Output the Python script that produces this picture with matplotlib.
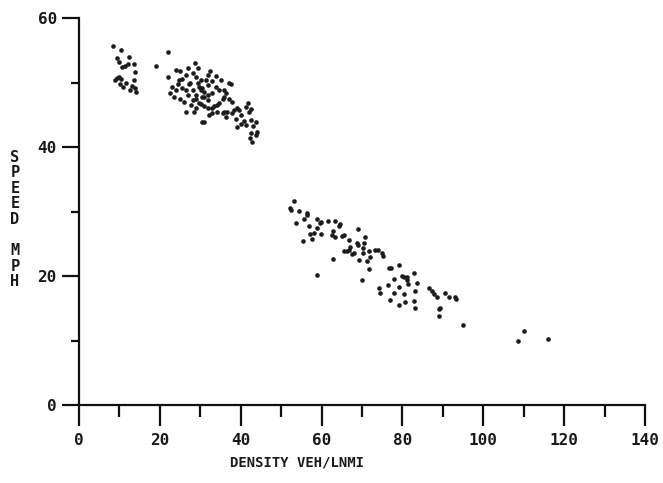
import matplotlib
matplotlib.use("Agg")
import matplotlib.pyplot as plt
from matplotlib.ticker import MultipleLocator

# ---- data (density veh/lnmi, speed mph) ----
free_density = [8.4, 10.4, 9.4, 9.9, 12.3, 10.6, 11.4, 12.1, 13.6, 13.8, 8.9, 9.4, 9.9,
                10.4, 13.6, 10.9, 13.1, 12.6, 13.8, 14.1, 11.6, 10.1]
free_speed = [55.6, 55.0, 53.8, 53.2, 53.9, 52.4, 52.5, 52.9, 52.9, 51.6, 50.4, 50.7, 50.8,
              50.5, 50.4, 49.3, 49.4, 48.8, 49.1, 48.5, 49.9, 49.8]

mid_density = [19.0, 21.9, 28.7, 29.4, 23.9, 21.9, 26.4, 30.5, 37.1, 35.1, 39.6, 42.0, 42.5,
               43.7, 41.2, 43.7, 42.9, 39.2, 31.8, 35.9, 35.9, 24.4, 23.1, 24.8, 26.4, 28.1,
               28.9, 27.2, 25.6, 24.0, 28.1, 29.7, 31.8, 31.4, 33.0, 28.9, 30.5, 28.1, 29.7,
               31.8, 33.0, 34.6, 35.5, 30.9, 33.0, 34.2, 28.9, 27.7, 35.9, 32.1, 31.8, 30.9,
               33.8, 37.5, 36.4, 37.1, 37.9, 34.6, 33.4, 30.2, 30.9, 33.0, 34.2, 35.5, 36.3,
               36.7, 37.9, 38.3, 39.2, 40.1, 38.8, 40.0, 41.4, 42.6, 40.8, 43.0, 42.5, 44.0,
               42.3, 41.7, 30.1, 30.1, 22.5, 23.5, 25.0, 26.0, 27.0, 26.5, 25.5, 27.5, 29.5,
               30.5, 31.0, 32.0, 29.0, 28.5, 32.5, 34.0, 27.0, 25.0]
mid_speed = [52.5, 54.8, 53.0, 52.2, 52.0, 50.8, 45.5, 43.9, 50.0, 50.4, 45.7, 45.5, 44.2,
             43.9, 43.4, 41.9, 40.8, 43.1, 46.0, 47.8, 48.8, 49.8, 49.3, 50.4, 51.2, 51.4,
             50.9, 49.8, 49.1, 48.8, 48.8, 49.3, 51.2, 50.4, 50.2, 48.1, 47.8, 47.3, 46.8,
             47.3, 48.3, 48.8, 47.5, 46.3, 46.0, 46.5, 46.0, 46.5, 45.5, 45.0, 49.6, 47.8,
             49.3, 49.8, 48.3, 47.5, 47.0, 46.8, 46.3, 46.6, 43.9, 45.2, 45.5, 45.2, 44.7,
             45.5, 45.2, 45.7, 46.0, 44.9, 44.4, 43.6, 46.2, 45.9, 44.0, 43.2, 42.1, 42.4,
             41.4, 46.8, 50.4, 48.8, 48.3, 47.8, 47.5, 47.0, 48.0, 48.8, 50.5, 50.0, 50.0,
             49.2, 48.5, 48.0, 47.5, 45.5, 51.8, 51.0, 52.3, 51.8]

cong_density = [53.2, 52.3, 52.5, 54.4, 56.5, 56.5, 55.6, 53.6, 58.9, 59.6, 59.9, 61.6, 63.3,
                64.5, 64.3, 56.9, 58.9, 58.1, 57.1, 59.9, 57.6, 55.4, 62.9, 62.5, 63.3, 65.5,
                65.1, 66.7, 69.0, 70.7, 68.8, 69.0, 70.4, 70.3, 65.5, 66.2, 66.7, 67.6, 68.0,
                67.0, 70.3, 71.7, 72.1, 71.3, 69.2, 73.3, 73.9, 75.0, 75.2, 71.8, 62.9, 70.0,
                58.9, 76.6, 77.2, 79.1, 79.9, 80.3, 81.2, 82.8, 81.2, 77.8, 83.6, 81.3, 79.1,
                76.4, 74.1, 74.4, 83.2, 80.3, 77.8, 77.0, 79.1, 80.7, 82.8, 83.0, 86.5, 87.3,
                87.7, 88.6, 90.6, 91.4, 93.1, 93.3, 89.4, 89.0, 89.1, 95.0, 110.0, 108.7, 116.1]
cong_speed = [31.7, 30.5, 30.2, 30.1, 29.8, 29.5, 28.9, 28.2, 28.8, 28.2, 28.3, 28.6, 28.6,
              28.1, 27.7, 27.7, 27.5, 26.6, 26.5, 26.5, 25.7, 25.5, 27.0, 26.4, 26.1, 26.4,
              26.2, 25.6, 27.3, 26.0, 25.1, 24.8, 25.1, 24.3, 23.9, 23.9, 24.1, 23.4, 23.6,
              24.5, 23.5, 23.9, 23.0, 22.4, 22.5, 24.1, 24.0, 23.5, 23.1, 21.1, 22.6, 19.4,
              20.2, 21.3, 21.2, 21.7, 20.0, 19.8, 19.8, 20.4, 19.4, 19.6, 18.9, 18.7, 18.3,
              18.6, 18.2, 17.3, 17.7, 17.2, 17.4, 16.3, 15.5, 15.9, 16.2, 15.1, 18.1, 17.6,
              17.2, 16.8, 17.3, 16.7, 16.8, 16.4, 15.0, 14.9, 13.8, 12.4, 11.5, 9.9, 10.3]

x_major = [0, 20, 40, 60, 80, 100, 120, 140]
y_major = [0, 20, 40, 60]
x_label = "DENSITY VEH/LNMI"
y_label = "SPEED MPH"

# ---- figure ----
W, H = 663, 483
fig = plt.figure(figsize=(W / 100, H / 100), dpi=100)
ax = fig.add_axes([79 / W, (H - 405) / H, 566 / W, 387 / H])

dot = dict(s=11, color="#1c1c1c", linewidths=0, zorder=3)
ax.scatter(free_density, free_speed, **dot)
ax.scatter(mid_density, mid_speed, **dot)
ax.scatter(cong_density, cong_speed, **dot)

ax.set_xlim(0, 140)
ax.set_ylim(0, 60)
for s in ("top", "right"):
    ax.spines[s].set_visible(False)
for s in ("left", "bottom"):
    ax.spines[s].set_linewidth(1.6)
    ax.spines[s].set_color("#111111")

ax.set_xticks(x_major)
ax.set_yticks(y_major)
ax.xaxis.set_minor_locator(MultipleLocator(10))
ax.yaxis.set_minor_locator(MultipleLocator(10))
ax.tick_params(axis="x", which="major", direction="out", length=15, width=1.6, pad=5,
               color="#111111")
ax.tick_params(axis="x", which="minor", direction="out", length=8.5, width=1.6,
               color="#111111")
ax.tick_params(axis="y", which="major", direction="out", length=12, width=1.6, pad=4,
               color="#111111")
ax.tick_params(axis="y", which="minor", direction="out", length=6, width=1.6,
               color="#111111")
for lab in ax.get_xticklabels() + ax.get_yticklabels():
    lab.set_fontfamily("DejaVu Sans Mono")
    lab.set_fontweight("bold")
    lab.set_fontsize(11.5)
    lab.set_color("#1a1a1a")

fig.text(297 / W, 1 - 463 / H, x_label, ha="center", va="center",
         fontfamily="DejaVu Sans Mono", fontsize=10, fontweight="bold", color="#1a1a1a")

# stacked vertical y label
letters = list(y_label)
y0, step = 157, 15.6
for i, ch in enumerate(letters):
    if ch == " ":
        continue
    fig.text(15 / W, 1 - (y0 + i * step) / H, ch, ha="center", va="center",
             fontfamily="DejaVu Sans Mono", fontsize=11, fontweight="bold", color="#1a1a1a")

fig.savefig("out.png", dpi=100)
